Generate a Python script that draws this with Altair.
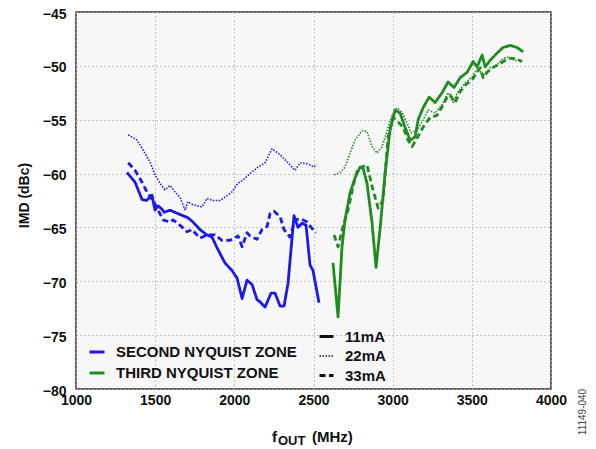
import altair as alt
import pandas as pd

# ---------------- data ----------------
zones = ["SECOND NYQUIST ZONE", "THIRD NYQUIST ZONE"]
currents = ["11mA", "22mA", "33mA"]

s2_11_f = [1322, 1373, 1417, 1445, 1480, 1499, 1518, 1543, 1556, 1594, 1657, 1707, 1739, 1783, 1827, 1859, 1891,
           1941, 1985, 2017, 2049, 2080, 2112, 2143, 2162, 2194, 2232, 2257, 2289, 2314, 2339, 2377, 2402, 2428,
           2453, 2478, 2497, 2535]
s2_11_v = [-59.9, -60.8, -62.4, -62.5, -62.0, -63.4, -63.0, -63.3, -63.6, -63.4, -63.8, -64.1, -64.5, -65.2, -65.7,
           -65.9, -66.9, -68.3, -69.0, -69.7, -71.6, -69.9, -70.3, -71.7, -71.9, -72.4, -71.1, -71.1, -72.3, -72.3,
           -70.2, -63.9, -65.0, -64.6, -64.8, -68.5, -69.0, -72.0]

s2_22_f = [1330, 1386, 1423, 1467, 1499, 1530, 1562, 1594, 1625, 1657, 1689, 1707, 1739, 1796, 1827, 1865, 1910,
           1960, 1985, 2023, 2055, 2099, 2150, 2194, 2238, 2276, 2320, 2364, 2383, 2415, 2466, 2503, 2522]
s2_22_v = [-56.4, -56.9, -57.8, -58.9, -60.1, -60.9, -61.5, -61.1, -61.7, -62.2, -63.4, -62.6, -62.9, -63.1, -62.3,
           -62.5, -62.5, -62.0, -61.7, -60.9, -60.6, -60.0, -59.4, -59.0, -57.7, -58.1, -58.7, -59.4, -59.7, -59.0,
           -59.1, -59.4, -59.2]

s2_33_f = [1330, 1373, 1417, 1448, 1486, 1512, 1550, 1594, 1613, 1657, 1701, 1733, 1783, 1827, 1878, 1922, 1973,
           2023, 2049, 2080, 2099, 2143, 2175, 2207, 2226, 2251, 2289, 2314, 2352, 2383, 2421, 2459, 2485, 2516]
s2_33_v = [-59.0, -59.7, -60.8, -61.7, -62.5, -63.2, -64.3, -64.5, -64.3, -64.8, -65.4, -65.2, -66.0, -65.7, -65.7,
           -66.2, -66.2, -65.8, -66.8, -65.5, -65.8, -66.1, -65.2, -64.9, -63.7, -63.5, -64.0, -65.2, -65.9, -64.3,
           -64.2, -64.5, -65.0, -65.5]

s3_11_f = [2623, 2655, 2680, 2699, 2731, 2762, 2794, 2813, 2838, 2870, 2895, 2920, 2952, 2983, 3015, 3047, 3078,
           3110, 3142, 3161, 3192, 3230, 3268, 3312, 3350, 3388, 3426, 3470, 3508, 3533, 3565, 3584, 3615, 3660,
           3697, 3742, 3786, 3824]
s3_11_v = [-68.3, -73.3, -66.8, -64.3, -61.8, -60.4, -59.4, -59.5, -60.9, -64.6, -68.7, -65.2, -60.0, -56.0, -54.1,
           -54.4, -55.7, -56.9, -56.6, -55.0, -53.9, -52.9, -53.4, -52.5, -51.5, -52.0, -51.1, -50.6, -49.6, -50.1,
           -49.0, -50.1, -49.5, -48.8, -48.3, -48.1, -48.3, -48.7]

s3_22_f = [2630, 2668, 2699, 2731, 2762, 2807, 2838, 2870, 2901, 2933, 2965, 2996, 3028, 3059, 3091, 3116, 3154,
           3186, 3224, 3268, 3312, 3350, 3382, 3413, 3458, 3502, 3540, 3571, 3615, 3660, 3697, 3729, 3773, 3817]
s3_22_v = [-60.1, -59.9, -59.4, -58.1, -56.9, -56.0, -56.1, -57.5, -58.1, -57.5, -56.0, -54.6, -53.9, -54.3, -55.3,
           -56.2, -56.0, -55.2, -54.1, -54.4, -53.6, -52.5, -53.4, -52.4, -51.6, -51.0, -50.2, -50.9, -50.2, -49.9,
           -49.3, -49.2, -49.5, -49.5]

s3_33_f = [2630, 2655, 2687, 2718, 2750, 2781, 2838, 2870, 2908, 2939, 2971, 3003, 3034, 3066, 3097, 3123, 3154,
           3192, 3236, 3280, 3312, 3344, 3363, 3394, 3426, 3458, 3502, 3533, 3552, 3571, 3597, 3628, 3666, 3710,
           3742, 3773, 3817]
s3_33_v = [-65.7, -66.8, -64.9, -63.4, -61.2, -59.5, -59.2, -61.2, -63.2, -62.5, -56.6, -54.8, -55.2, -55.7, -56.9,
           -57.5, -56.7, -55.7, -54.8, -54.6, -53.8, -52.9, -52.7, -53.4, -52.4, -51.8, -51.3, -50.6, -50.2, -51.1,
           -50.6, -50.2, -49.9, -49.5, -49.3, -49.3, -49.6]

x_ticks = [1000, 1500, 2000, 2500, 3000, 3500, 4000]
y_ticks = [-80, -75, -70, -65, -60, -55, -50, -45]

# ---------------- build table ----------------
series = [
    (zones[0], currents[0], s2_11_f, s2_11_v),
    (zones[0], currents[1], s2_22_f, s2_22_v),
    (zones[0], currents[2], s2_33_f, s2_33_v),
    (zones[1], currents[0], s3_11_f, s3_11_v),
    (zones[1], currents[1], s3_22_f, s3_22_v),
    (zones[1], currents[2], s3_33_f, s3_33_v),
]
rows = []
for z, c, fs, vs in series:
    for f, v in zip(fs, vs):
        rows.append({"zone": z, "current": c, "freq": f, "imd": v})
df = pd.DataFrame(rows)

FONT = "Liberation Sans"
BLUE = "#1a1aeb"
GREEN = "#1e8c1e"

dash_legend = dict(orient="none", legendX=242, legendY=316, symbolType="stroke",
                   symbolSize=196, symbolStrokeColor="#111111",
                   labelFont=FONT, labelFontWeight="bold", labelFontSize=15,
                   labelColor="#111111", labelOffset=10, rowPadding=3, padding=0)

lines = alt.Chart(df).mark_line(strokeJoin="round").encode(
    x=alt.X("freq:Q",
            scale=alt.Scale(domain=[1000, 4000], nice=False, zero=False),
            axis=alt.Axis(values=x_ticks, title=None, labelFont=FONT, labelFontWeight="bold",
                          labelFontSize=14, labelColor="#111111", labelPadding=4, tickSize=0,
                          domain=False, labelFlush=False, grid=True, format="d")),
    y=alt.Y("imd:Q",
            scale=alt.Scale(domain=[-80, -45], nice=False, zero=False),
            axis=alt.Axis(values=y_ticks, title="IMD (dBc)", labelFont=FONT, labelFontWeight="bold",
                          labelFontSize=14, labelColor="#111111", labelPadding=10, tickSize=0,
                          domain=False, labelFlush=False, grid=True, labelOffset=2,
                          titleFont=FONT, titleFontWeight="bold", titleFontSize=14, titleColor="#111111",
                          titleX=-52, titleY=183, titleAngle=270, titleBaseline="middle", titleAlign="center")),
    color=alt.Color("zone:N", title=None,
                    scale=alt.Scale(domain=zones, range=[BLUE, GREEN]),
                    legend=alt.Legend(orient="none", legendX=12, legendY=331, symbolType="stroke",
                                      symbolSize=225, symbolStrokeWidth=3, labelFont=FONT,
                                      labelFontWeight="bold", labelFontSize=15, labelColor="#111111",
                                      labelOffset=10, rowPadding=4, padding=0, labelLimit=400)),
    strokeDash=alt.StrokeDash("current:N", title=None,
                              scale=alt.Scale(type="ordinal", domain=currents,
                                              range=[[1, 0], [1.5, 1.5], [6, 3.5]]),
                              legend=alt.Legend(**dash_legend)),
    strokeWidth=alt.StrokeWidth("current:N", title=None,
                                scale=alt.Scale(type="ordinal", domain=currents, range=[2.8, 1.6, 2.8]),
                                legend=alt.Legend(**dash_legend)),
    detail="current:N",
)

def label(txt, x, y, size, weight="bold", angle=0, align="left", baseline="alphabetic", color="#111111"):
    return alt.Chart(pd.DataFrame({"t": [txt]})).mark_text(
        font=FONT, fontSize=size, fontWeight=weight, angle=angle, align=align,
        baseline=baseline, color=color
    ).encode(x=alt.value(x), y=alt.value(y), text="t:N")

title_f = label("f", 196, 430, 15)
title_out = label("OUT", 202, 433, 13)
title_mhz = label("(MHz)", 236, 430, 15)
fig_id = label("11149-040", 507, 400, 10, weight="normal", angle=270, align="center",
               baseline="middle", color="#444444")

chart = alt.layer(lines, title_f, title_out, title_mhz, fig_id).properties(
    width=475, height=377,
    autosize=alt.AutoSizeParams(type="none"),
    padding={"left": 68, "top": 4, "right": 37, "bottom": 60},
).configure_view(
    fill="#f7f7f7", stroke="#333333", strokeWidth=1.5
).configure_axis(
    gridColor="#b3b3b3", gridDash=[1.5, 2.5], gridWidth=1
)

chart.save("out.html", embed_options={"renderer": "svg", "actions": False})
